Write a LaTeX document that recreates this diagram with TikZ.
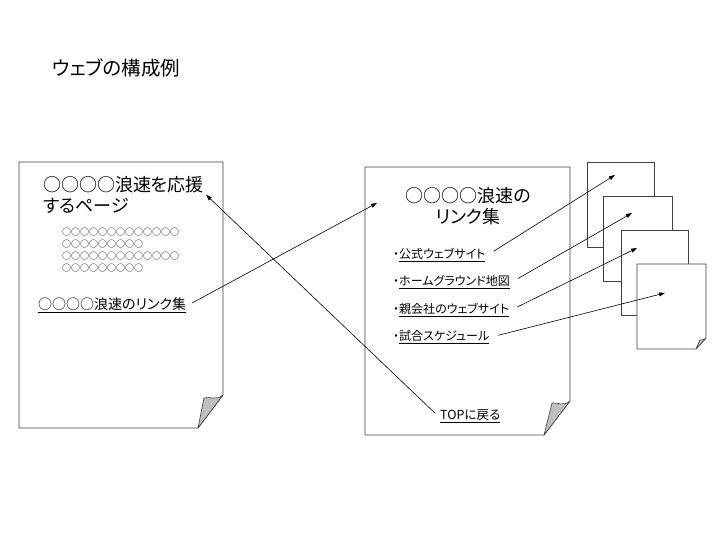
\documentclass[tikz,border=0pt]{standalone}
\usepackage{fontspec}
\setmainfont{Noto Sans CJK JP}[RawFeature=+palt]
\usetikzlibrary{arrows.meta}
\tikzset{
  sheet/.style={draw=black!75, line width=0.8pt, fill=white, line join=round},
  curl/.style={draw=black!75, line width=0.6pt, fill=black!25, line join=round},
  jump/.style={-{Triangle[length=6pt,width=4pt]}, line width=0.6pt},
  every node/.style={inner sep=2pt}
}
\begin{document}
\begin{tikzpicture}[x=1pt,y=-1pt]
\useasboundingbox (0,0) rectangle (720,540);
\draw[sheet] (19,162) -- (223,162) -- (223,395) -- (198,428) -- (19,428) -- cycle;
\draw[curl] (223,395) .. controls (216,401) and (210,396) .. (204,398) -- (198,428) -- cycle;
\draw[sheet] (365,167) -- (570,167) -- (570,401) -- (544,435) -- (365,435) -- cycle;
\draw[curl] (570,401) .. controls (563,407) and (558,402) .. (552,403) -- (544,435) -- cycle;
\draw[sheet] (587,162) rectangle (654,247);
\draw[sheet] (603,196) rectangle (672,281);
\draw[sheet] (621,230) rectangle (688,315);
\draw[sheet] (637,264) -- (706,264) -- (706,338) -- (696,349) -- (637,349) -- cycle;
\draw[curl] (706,338) .. controls (703,341) and (702,339) .. (700,340) -- (696,349) -- cycle;
\node[anchor=west, font=\fontsize{19.5}{21}\selectfont] (title) at (50,68) {ウェブの構成例};
\node[anchor=north west, align=left, font=\fontsize{18}{21}\selectfont] (hometitle) at (41,174) {○○○○浪速を応援\\するページ};
\node[anchor=north west, align=left, font=\fontsize{9}{12}\selectfont] (body) at (60,226) {○○○○○○○○○○○○○\\○○○○○○○○○\\○○○○○○○○○○○○○\\○○○○○○○○○};
\node[anchor=west, font=\fontsize{14}{16}\selectfont] (link) at (36,305) {\underline{○○○○浪速のリンク集}};
\node[anchor=north, align=center, font=\fontsize{18}{21}\selectfont] (listtitle) at (468,185) {○○○○浪速の\\リンク集};
\node[anchor=west, font=\fontsize{12}{14}\selectfont] (item1) at (391,255) {・\underline{公式ウェブサイト}};
\node[anchor=west, font=\fontsize{12}{14}\selectfont] (item2) at (391,282) {・\underline{ホームグラウンド地図}};
\node[anchor=west, font=\fontsize{12}{14}\selectfont] (item3) at (391,310) {・\underline{親会社のウェブサイト}};
\node[anchor=west, font=\fontsize{12}{14}\selectfont] (item4) at (391,337) {・\underline{試合スケジュール}};
\node[anchor=west, font=\fontsize{12.5}{14}\selectfont] (top) at (438,416) {\underline{TOPに戻る}};
\coordinate (listin) at (377,203);
\coordinate (sub1in) at (615,175);
\coordinate (sub2in) at (632,213);
\coordinate (sub3in) at (637,248);
\coordinate (sub4in) at (665,293);
\draw[jump, shorten <=4pt] (link.east) -- (listin);
\draw[jump, shorten <=4pt] (top.west) -- (hometitle.east);
\draw[jump, shorten <=7pt] (item1.east) -- (sub1in);
\draw[jump, shorten <=7pt] (item2.east) -- (sub2in);
\draw[jump, shorten <=7pt] (item3.east) -- (sub3in);
\draw[jump, shorten <=7pt] (item4.east) -- (sub4in);
\end{tikzpicture}
\end{document}
